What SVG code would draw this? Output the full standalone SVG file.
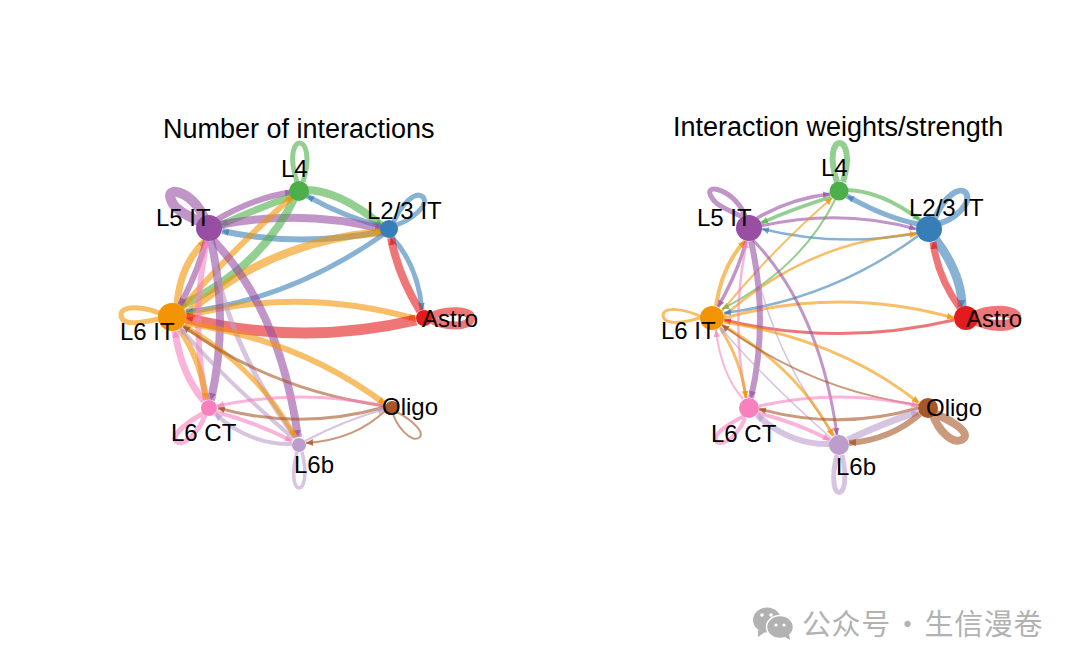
<svg xmlns="http://www.w3.org/2000/svg" width="1080" height="667" viewBox="0 0 1080 667">
<style>
text{font-family:"Liberation Sans",Arial,sans-serif;fill:#000}
.t{font-size:27px}.l{font-size:24px}
.wm{font-family:"Noto Sans CJK SC","Liberation Sans",sans-serif;font-size:29px;fill:#b2b2b2;letter-spacing:.6px;word-spacing:-5px}
path{fill:none;stroke-opacity:.6}
.a{stroke:#E41A1C;marker-end:url(#ma)}.b{stroke:#377EB8;marker-end:url(#mb)}.c{stroke:#4DAF4A;marker-end:url(#mc)}.d{stroke:#984EA3;marker-end:url(#md)}
.e{stroke:#F29403;marker-end:url(#me)}.f{stroke:#F781BF;marker-end:url(#mf)}.g{stroke:#BC9DCC;marker-end:url(#mg)}.h{stroke:#A65628;marker-end:url(#mh)}
.lp{marker-end:none}
</style>
<defs>
<marker id="ma" markerUnits="userSpaceOnUse" markerWidth="8" markerHeight="8" refX="7" refY="4" orient="auto"><path d="M0,.5L7,4L0,7.5z" style="fill:#E41A1C;fill-opacity:.7;stroke:none"/></marker>
<marker id="mb" markerUnits="userSpaceOnUse" markerWidth="8" markerHeight="8" refX="7" refY="4" orient="auto"><path d="M0,.5L7,4L0,7.5z" style="fill:#377EB8;fill-opacity:.7;stroke:none"/></marker>
<marker id="mc" markerUnits="userSpaceOnUse" markerWidth="8" markerHeight="8" refX="7" refY="4" orient="auto"><path d="M0,.5L7,4L0,7.5z" style="fill:#4DAF4A;fill-opacity:.7;stroke:none"/></marker>
<marker id="md" markerUnits="userSpaceOnUse" markerWidth="8" markerHeight="8" refX="7" refY="4" orient="auto"><path d="M0,.5L7,4L0,7.5z" style="fill:#984EA3;fill-opacity:.7;stroke:none"/></marker>
<marker id="me" markerUnits="userSpaceOnUse" markerWidth="8" markerHeight="8" refX="7" refY="4" orient="auto"><path d="M0,.5L7,4L0,7.5z" style="fill:#F29403;fill-opacity:.8;stroke:none"/></marker>
<marker id="mf" markerUnits="userSpaceOnUse" markerWidth="8" markerHeight="8" refX="7" refY="4" orient="auto"><path d="M0,.5L7,4L0,7.5z" style="fill:#F781BF;fill-opacity:.7;stroke:none"/></marker>
<marker id="mg" markerUnits="userSpaceOnUse" markerWidth="8" markerHeight="8" refX="7" refY="4" orient="auto"><path d="M0,.5L7,4L0,7.5z" style="fill:#BC9DCC;fill-opacity:.7;stroke:none"/></marker>
<marker id="mh" markerUnits="userSpaceOnUse" markerWidth="8" markerHeight="8" refX="7" refY="4" orient="auto"><path d="M0,.5L7,4L0,7.5z" style="fill:#A65628;fill-opacity:.8;stroke:none"/></marker>
</defs>
<rect width="1080" height="667" fill="#fff"/>
<text class="t" x="163" y="138">Number of interactions</text>
<text class="t" x="673" y="136">Interaction weights/strength</text>

<g id="connectors-left">
<path class="c lp" stroke-width="5" d="M297,182C280,130 319,130 303,182"/>
<path class="d lp" stroke-width="10" d="M207,226C198,192 162,182 172,202C177,213 195,218 207,226"/>
<path class="b lp" stroke-width="5" d="M392,226C400,205 415,190 423,197C430,205 410,222 392,226"/>
<path class="a lp" stroke-width="8" d="M428,318C445,308 473,310 471,318C470,328 445,328 428,318"/>
<path class="e lp" stroke-width="5" d="M168,317C145,305 120,305 121,315C122,328 145,322 168,317"/>
<path class="f lp" stroke-width="5" d="M206,412C190,420 170,435 176,441C184,448 200,430 205,415"/>
<path class="g lp" stroke-width="3.5" d="M297,452C284,500 314,500 302,452"/>
<path class="h lp" stroke-width="2" d="M392,410C405,415 425,430 420,437C412,445 395,425 392,410"/>
<path class="c" stroke-width="8" d="M305,190Q340,190 382,226"/>
<path class="b" stroke-width="5" d="M388,228Q346,218 307,196"/>
<path class="d" stroke-width="6" d="M213,222Q252,198 292,192"/>
<path class="c" stroke-width="7" d="M295,195Q258,208 221,225"/>
<path class="d" stroke-width="8" d="M213,226Q300,208 382,229"/>
<path class="b" stroke-width="6" d="M385,231Q300,248 222,231"/>
<path class="c" stroke-width="8" d="M296,195Q262,268 180,306"/>
<path class="e" stroke-width="6" d="M180,310Q232,250 293,196"/>
<path class="e" stroke-width="8" d="M185,315Q270,240 383,232"/>
<path class="b" stroke-width="5" d="M384,234Q290,300 186,312"/>
<path class="e" stroke-width="6" d="M186,316Q300,286 416,319"/>
<path class="a" stroke-width="11" d="M416,320Q300,347 186,318"/>
<path class="b" stroke-width="5" d="M391,236Q418,265 422,310"/>
<path class="a" stroke-width="8" d="M420,311Q398,275 391,238"/>
<path class="e" stroke-width="7" d="M177,305Q180,265 205,241"/>
<path class="d" stroke-width="6" d="M206,240Q198,272 180,305"/>
<path class="d" stroke-width="8" d="M211,241Q229,320 211,400"/>
<path class="f" stroke-width="6" d="M206,400Q190,320 207,241"/>
<path class="d" stroke-width="8" d="M213,240Q280,310 298,437"/>
<path class="g" stroke-width="5" d="M296,438Q226,345 211,241"/>
<path class="e" stroke-width="6" d="M180,330Q201,360 206,400"/>
<path class="f" stroke-width="7" d="M204,401Q181,374 175,331"/>
<path class="e" stroke-width="5" d="M184,326Q258,368 295,437"/>
<path class="g" stroke-width="4" d="M293,438Q225,380 180,328"/>
<path class="e" stroke-width="6" d="M185,323Q300,340 385,404"/>
<path class="h" stroke-width="3" d="M385,406Q270,390 183,326"/>
<path class="f" stroke-width="3" d="M385,406Q300,388 217,406"/>
<path class="h" stroke-width="3" d="M385,407Q300,431 218,408"/>
<path class="f" stroke-width="4" d="M216,412Q255,422 292,441"/>
<path class="g" stroke-width="4" d="M292,444Q250,445 215,414"/>
<path class="g" stroke-width="2" d="M305,441Q345,420 385,409"/>
<path class="h" stroke-width="2" d="M386,410Q355,440 306,443"/>
</g>

<g id="connectors-right">
<path class="c lp" stroke-width="6" d="M837,182C820,130 859,130 843,182"/>
<path class="d lp" stroke-width="5" d="M746,219C738,190 700,180 712,198C718,208 735,212 746,219"/>
<path class="b lp" stroke-width="6" d="M935,218C945,195 960,186 966,193C972,203 955,220 937,224"/>
<path class="a lp" stroke-width="11" d="M972,318C990,308 1016,310 1016,318C1016,328 990,328 972,318"/>
<path class="e lp" stroke-width="3" d="M702,317C685,309 664,306 663,315C663,326 685,323 702,317"/>
<path class="f lp" stroke-width="4" d="M746,415C730,423 710,435 717,442C725,447 740,432 745,418"/>
<path class="g lp" stroke-width="5" d="M837,455C824,505 854,505 842,455"/>
<path class="h lp" stroke-width="8" d="M932,412C945,418 970,430 964,438C955,447 938,432 932,412"/>
<path class="c" stroke-width="4" d="M845,190Q880,190 920,220"/>
<path class="b" stroke-width="5" d="M918,224Q886,218 847,196"/>
<path class="d" stroke-width="3.5" d="M757,218Q792,198 830,194"/>
<path class="c" stroke-width="3.5" d="M831,197Q795,208 761,223"/>
<path class="d" stroke-width="3" d="M761,226Q840,208 916,229"/>
<path class="b" stroke-width="2.5" d="M917,233Q840,248 762,229"/>
<path class="c" stroke-width="2" d="M836,198Q802,268 722,309"/>
<path class="e" stroke-width="2" d="M721,312Q772,250 832,198"/>
<path class="e" stroke-width="2.5" d="M724,316Q810,240 917,234"/>
<path class="b" stroke-width="2.5" d="M918,236Q830,300 724,313"/>
<path class="e" stroke-width="3" d="M724,318Q840,286 954,318"/>
<path class="a" stroke-width="3" d="M954,320Q840,347 724,320"/>
<path class="b" stroke-width="9" d="M936,240Q962,275 962,307"/>
<path class="a" stroke-width="7" d="M960,308Q938,278 933,242"/>
<path class="e" stroke-width="4" d="M716,306Q722,265 745,241"/>
<path class="d" stroke-width="3.5" d="M746,241Q738,272 718,307"/>
<path class="d" stroke-width="6" d="M751,241Q769,320 751,398"/>
<path class="f" stroke-width="2.5" d="M746,398Q730,320 747,241"/>
<path class="d" stroke-width="3" d="M753,240Q820,310 837,435"/>
<path class="g" stroke-width="1.5" d="M835,436Q766,345 751,241"/>
<path class="e" stroke-width="3" d="M720,328Q741,360 746,398"/>
<path class="f" stroke-width="2" d="M743,399Q721,374 716,330"/>
<path class="e" stroke-width="3" d="M722,325Q798,368 833,436"/>
<path class="g" stroke-width="1.5" d="M831,438Q765,380 720,327"/>
<path class="e" stroke-width="3" d="M724,322Q840,340 919,403"/>
<path class="h" stroke-width="2" d="M919,405Q810,390 722,325"/>
<path class="f" stroke-width="3" d="M759,406Q840,388 918,406"/>
<path class="h" stroke-width="3" d="M918,408Q840,431 759,409"/>
<path class="f" stroke-width="4" d="M758,413Q795,422 830,440"/>
<path class="g" stroke-width="6" d="M830,444Q790,445 757,415"/>
<path class="g" stroke-width="7" d="M848,440Q885,422 918,412"/>
<path class="h" stroke-width="6" d="M920,414Q890,440 849,443"/>
</g>

<g id="node-left-L4"><circle cx="299" cy="191" r="10" fill="#4DAF4A"/><text class="l" x="281" y="177">L4</text></g>
<g id="node-left-L23"><circle cx="389" cy="229" r="9" fill="#377EB8"/><text class="l" x="367" y="219">L2/3 IT</text></g>
<g id="node-left-L5"><circle cx="209" cy="228" r="13" fill="#984EA3"/><text class="l" x="156" y="226">L5 IT</text></g>
<g id="node-left-L6IT"><circle cx="172" cy="317" r="14" fill="#F29403"/><text class="l" x="120" y="340">L6 IT</text></g>
<g id="node-left-Astro"><circle cx="424" cy="318" r="8" fill="#E41A1C"/><text class="l" x="422" y="327">Astro</text></g>
<g id="node-left-Oligo"><circle cx="392" cy="408" r="7" fill="#A65628"/><text class="l" x="382" y="415">Oligo</text></g>
<g id="node-left-L6CT"><circle cx="209" cy="408" r="8" fill="#F781BF"/><text class="l" x="171" y="441">L6 CT</text></g>
<g id="node-left-L6b"><circle cx="299" cy="445" r="7" fill="#BC9DCC"/><text class="l" x="294" y="473">L6b</text></g>

<g id="node-right-L4"><circle cx="839" cy="191" r="9.5" fill="#4DAF4A"/><text class="l" x="821" y="176">L4</text></g>
<g id="node-right-L23"><circle cx="929" cy="229" r="13" fill="#377EB8"/><text class="l" x="909" y="216">L2/3 IT</text></g>
<g id="node-right-L5"><circle cx="749" cy="228" r="13" fill="#984EA3"/><text class="l" x="697" y="226">L5 IT</text></g>
<g id="node-right-L6IT"><circle cx="712" cy="318" r="12" fill="#F29403"/><text class="l" x="661" y="339">L6 IT</text></g>
<g id="node-right-Astro"><circle cx="966" cy="318" r="12" fill="#E41A1C"/><text class="l" x="966" y="327">Astro</text></g>
<g id="node-right-Oligo"><circle cx="928" cy="408" r="10" fill="#A65628"/><text class="l" x="926" y="416">Oligo</text></g>
<g id="node-right-L6CT"><circle cx="749" cy="408" r="10" fill="#F781BF"/><text class="l" x="711" y="442">L6 CT</text></g>
<g id="node-right-L6b"><circle cx="839" cy="445" r="10" fill="#BC9DCC"/><text class="l" x="836" y="475">L6b</text></g>

<g id="watermark">
<ellipse cx="767" cy="620" rx="14" ry="12.5" fill="#b2b2b2"/>
<path d="M758,630L758,637L765,632z" style="fill:#b2b2b2;stroke:none"/>
<ellipse cx="780" cy="627" rx="13.5" ry="11.5" fill="#b2b2b2" stroke="#fff" stroke-width="1.5"/>
<path d="M785,637L790,640L789,634z" style="fill:#b2b2b2;stroke:none"/>
<circle cx="762" cy="615" r="1.8" fill="#fff"/><circle cx="771" cy="615" r="1.8" fill="#fff"/>
<circle cx="776" cy="625" r="1.6" fill="#fff"/><circle cx="784" cy="625" r="1.6" fill="#fff"/>
<text class="wm" x="802" y="635">公众号 · 生信漫卷</text>
</g>
</svg>
